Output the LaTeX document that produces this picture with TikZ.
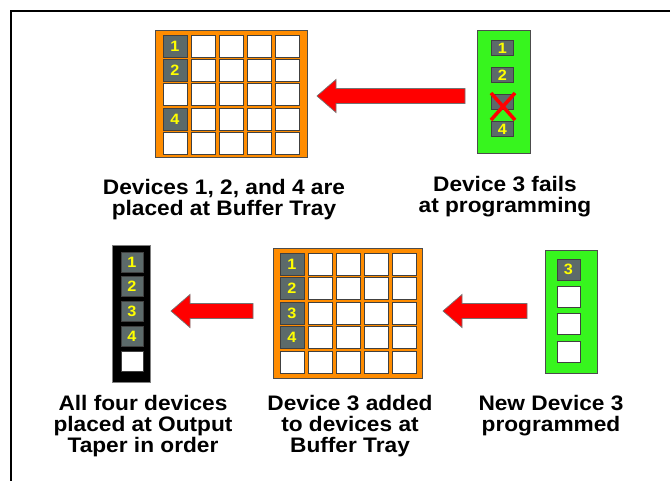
\documentclass[tikz,border=0pt]{standalone}
\usepackage{fontspec}
\setmainfont{Liberation Sans}[FakeStretch=1.08]
\usetikzlibrary{calc}

\definecolor{trayorange}{RGB}{255,140,0}
\definecolor{stripgreen}{RGB}{55,245,30}
\definecolor{chipgray}{RGB}{92,106,106}
\definecolor{chipyellow}{RGB}{255,255,0}
\definecolor{arrowred}{RGB}{255,0,0}

\begin{document}
\begin{tikzpicture}
	[x=1pt,y=-1pt%
	,tray/.style={draw=black!70,line width=0.8pt,inner sep=0pt}%
	,cell/.style={draw=black!75,fill=white,line width=0.6pt,%
		minimum width=24pt,minimum height=22pt,inner sep=0pt}%
	,chip/.style={cell,fill=chipgray,text=chipyellow,%
		font=\fontsize{15}{15}\selectfont\bfseries}%
	,label/.style={anchor=north,align=center,inner sep=0pt,%
		font=\fontsize{21}{21}\selectfont\bfseries}%
	,redarrow/.style={fill=arrowred,draw=black!55,line width=0.7pt}%
	,redx/.style={draw=arrowred,line width=3.5pt}]
	\useasboundingbox (0,0) rectangle (670,480);
	% outer frame
	\draw[line width=2pt] (11,500) -- (11,11) -- (700,11);

	% trays and strips
	\node[tray,fill=trayorange,minimum width=152pt,minimum height=127pt] (trayA) at (231,93.5) {};
	\node[tray,fill=stripgreen,minimum width=53pt,minimum height=123pt] (stripB) at (503.5,91.5) {};
	\node[tray,fill=black,draw=black!50,minimum width=38pt,minimum height=137pt] (stripC) at (131,313.5) {};
	\node[tray,fill=trayorange,minimum width=149pt,minimum height=130pt] (trayD) at (347.5,313) {};
	\node[tray,fill=stripgreen,minimum width=52pt,minimum height=123pt] (stripE) at (571,311.5) {};

	% buffer tray cells
	\foreach \c in {0,...,4}
		\foreach \r in {0,...,4}{
			\node[cell] (a-\c-\r) at (175+28*\c,46+24.3*\r) {};
			\node[cell] (d-\c-\r) at (292+28*\c,264+24.5*\r) {};
		}
	\foreach \r/\n in {0/1,1/2,3/4}
		\node[chip] (achip-\n) at (a-0-\r) {\n};
	\foreach \r/\n in {0/1,1/2,2/3,3/4}
		\node[chip] (dchip-\n) at (d-0-\r) {\n};

	% programming strip, device 3 failed
	\foreach \n in {1,...,4}
		\node[chip,minimum width=22pt,minimum height=15pt] (b-\n) at (502.5,48+27*\n-27) {\ifnum\n=3\else\n\fi};
	\draw[redx] ($(b-3)+(-11.5,-9)$) -- ($(b-3)+(12.5,18)$);
	\draw[redx] ($(b-3)+(-11.5,18)$) -- ($(b-3)+(12.5,-9)$);

	% output taper
	\foreach \n in {1,...,4}
		\node[chip,minimum width=22pt,minimum height=20pt] (c-\n) at (132,262+24.7*\n-24.7) {\n};
	\node[cell,minimum width=22pt,minimum height=20pt] (c-5) at (132,361) {};

	% new device 3
	\node[chip,minimum width=23pt,minimum height=21pt] (e-1) at (568.5,269.5) {3};
	\foreach \n in {2,3,4}
		\node[cell,minimum width=23pt,minimum height=21pt] (e-\n) at (568.5,269.5+27.3*\n-27.3) {};

	% arrows
	\coordinate (tip1) at (317,96);
	\coordinate (tail1) at (465,96);
	\coordinate (tip2) at (171,311);
	\coordinate (tail2) at (253,311);
	\coordinate (tip3) at (443,311);
	\coordinate (tail3) at (527,311);
	\foreach \a/\b in {tip1/tail1,tip2/tail2,tip3/tail3}
		\draw[redarrow] (\a) -- ++(19,-16.5) -- ++(0,9) -- ($(\b)+(0,-7.5)$)
			-- ($(\b)+(0,7.5)$) -- ($(\a)+(19,7.5)$) -- ++(0,9) -- cycle;

	% captions
	\node[label] (capA) at (224,179.5) {Devices 1, 2, and 4 are\\placed at Buffer Tray};
	\node[label] (capB) at (505,176.5) {Device 3 fails\\at programming};
	\node[label] (capC) at (143,395.5) {All four devices\\placed at Output\\Taper in order};
	\node[label] (capD) at (350,395.5) {Device 3 added\\to devices at\\Buffer Tray};
	\node[label] (capE) at (551,395.5) {New Device 3\\programmed};
\end{tikzpicture}
\end{document}
